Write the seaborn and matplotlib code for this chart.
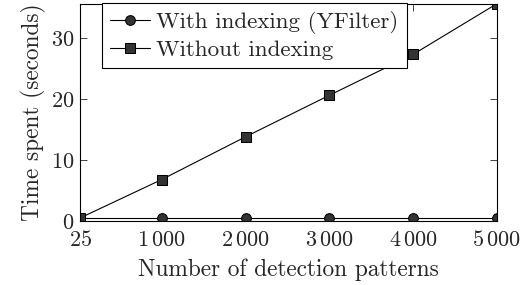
import matplotlib
matplotlib.use("Agg")
import matplotlib.pyplot as plt
import seaborn as sns
import pandas as pd

# values
patterns = [25, 1000, 2000, 3000, 4000, 5000]
with_index = [0.5, 0.5, 0.5, 0.5, 0.5, 0.5]
without_index = [0.5, 6.8, 13.8, 20.6, 27.3, 35.6]
tick_labels = ["$25$", "$1\\,000$", "$2\\,000$", "$3\\,000$", "$4\\,000$", "$5\\,000$"]
y_ticks = [0, 10, 20, 30]

sns.set_style("ticks")
plt.rcParams["font.family"] = ["cmr10", "DejaVu Serif"]
plt.rcParams["mathtext.fontset"] = "cm"
plt.rcParams["axes.formatter.use_mathtext"] = True

fig = plt.figure(figsize=(5.24, 2.85), dpi=100)
ax = fig.add_axes([0.153, 0.2246, 0.795, 0.762])

df = pd.DataFrame({"patterns": patterns, "with": with_index, "without": without_index})

sns.lineplot(data=df, x="patterns", y="with", ax=ax, color="black", lw=0.8,
             marker="o", markersize=7, markerfacecolor="#333333",
             markeredgecolor="black", label="With indexing (YFilter)")
sns.lineplot(data=df, x="patterns", y="without", ax=ax, color="black", lw=0.8,
             marker="s", markersize=7, markerfacecolor="#333333",
             markeredgecolor="black", label="Without indexing")

ax.set_xlim(25, 5000)
ax.set_ylim(0, 35.6)
ax.set_xticks(patterns)
ax.set_xticklabels(tick_labels)
ax.set_yticks(y_ticks)
ax.tick_params(direction="in", top=True, right=True, length=5, width=0.6, labelsize=16)
ax.tick_params(axis="x", pad=6.5)
ax.tick_params(axis="y", pad=4)
for s in ax.spines.values():
    s.set_linewidth(0.8)
    s.set_color("black")

ax.set_xlabel("Number of detection patterns", fontsize=16.8, labelpad=6)
ax.set_ylabel("Time spent (seconds)", fontsize=16.8, labelpad=4)

leg = ax.legend(loc="upper left", bbox_to_anchor=(0.053, 1.005), fontsize=16.6,
                frameon=True, fancybox=False, edgecolor="black", framealpha=1,
                borderaxespad=0, handlelength=1.7, handletextpad=0.3,
                borderpad=0.35, labelspacing=0.25)
leg.get_frame().set_linewidth(0.8)

fig.savefig("out.png", dpi=100)
